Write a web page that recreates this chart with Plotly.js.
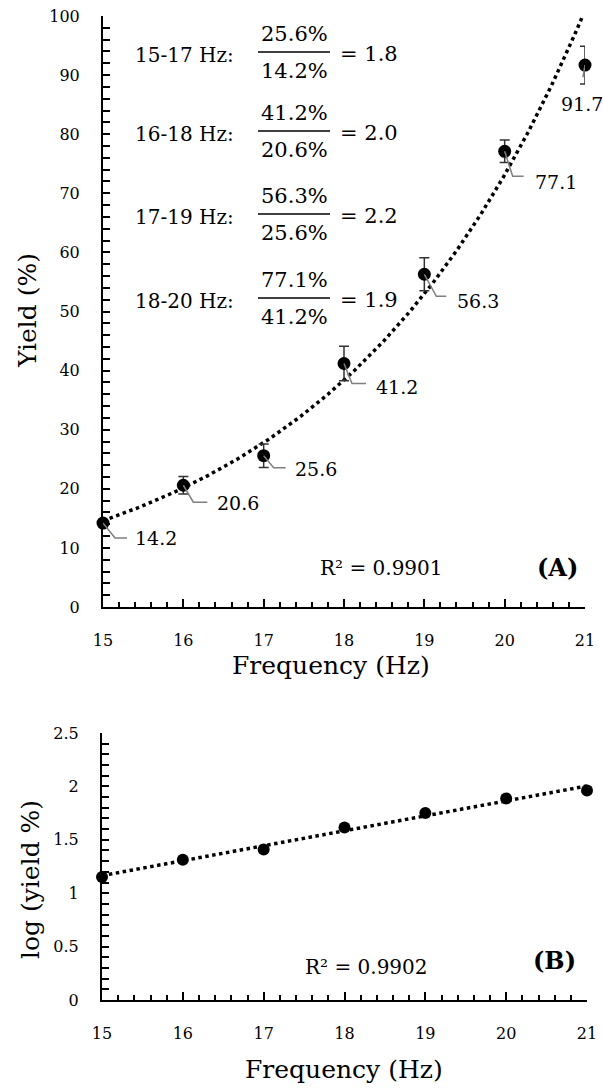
<!DOCTYPE html>
<html><head><meta charset="utf-8">
<script src="https://cdn.plot.ly/plotly-3.0.1.min.js"></script>
<style>html,body{margin:0;padding:0;background:#fff}</style>
</head><body><div id="chart" style="width:603px;height:1088px"></div>
<script>
// ---- data ----
const frequency = [15, 16, 17, 18, 19, 20, 21];
const yieldPct  = [14.2, 20.6, 25.6, 41.2, 56.3, 77.1, 91.7];
const yieldErr  = [0.5, 1.5, 2.0, 2.9, 2.8, 1.9, 3.2];
const logErr    = [0.015, 0.03, 0.035, 0.03, 0.02, 0.012, 0.015];
const r2A = '0.9901';
const r2B = '0.9902';
const panelA = '(A)';
const panelB = '(B)';

// ---- derived ----
const logYield = yieldPct.map(v => Math.log10(v));
function linfit(xs, ys) {
  const n = xs.length;
  const mx = xs.reduce((a, b) => a + b, 0) / n;
  const my = ys.reduce((a, b) => a + b, 0) / n;
  let sxy = 0, sxx = 0;
  for (let i = 0; i < n; i++) { sxy += (xs[i] - mx) * (ys[i] - my); sxx += (xs[i] - mx) ** 2; }
  const b = sxy / sxx;
  return { a: my - b * mx, b };
}
// Excel-style exponential trendline (regression on ln y) and linear trendline on log10 y
const fitA = linfit(frequency, yieldPct.map(v => Math.log(v)));
const fitB = linfit(frequency, logYield);
const trendX = [];
for (let x = frequency[0]; x <= frequency[frequency.length - 1] + 1e-9; x += 0.02) trendX.push(x);
const trendA = trendX.map(x => Math.exp(fitA.a + fitA.b * x));
const trendB = trendX.map(x => fitB.a + fitB.b * x);

const W = 603, H = 1088;
const PX = x => x / W, PY = y => 1 - y / H;
const FONT = 'DejaVu Serif';

const traces = [
  { x: trendX, y: trendA, mode: 'lines', xaxis: 'x', yaxis: 'y',
    line: { color: '#000', width: 3.5, dash: '3.5px,3.5px' }, hoverinfo: 'skip' },
  { x: frequency, y: yieldPct, mode: 'markers', xaxis: 'x', yaxis: 'y', cliponaxis: false,
    marker: { color: '#000', size: 13 },
    error_y: { type: 'data', array: yieldErr, visible: true, color: '#333', thickness: 1.5, width: 5 } },
  { x: trendX, y: trendB, mode: 'lines', xaxis: 'x2', yaxis: 'y2',
    line: { color: '#000', width: 3.5, dash: '3.5px,3.5px' }, hoverinfo: 'skip' },
  { x: frequency, y: logYield, mode: 'markers', xaxis: 'x2', yaxis: 'y2', cliponaxis: false,
    marker: { color: '#000', size: 12 },
    error_y: { type: 'data', array: logErr, visible: true, color: '#333', thickness: 1.5, width: 4 } }
];

function xAxis(domain, anchor) {
  return { domain, anchor, range: [15, 21], tick0: 15, dtick: 1, ticks: 'inside', ticklen: 8,
    tickwidth: 2, tickcolor: '#000', showline: true, linewidth: 2, linecolor: '#000',
    showgrid: false, zeroline: false, ticklabelstandoff: 18,
    tickfont: { family: FONT, size: 16, color: '#000' },
    minor: { tick0: 15, dtick: 0.2, ticks: 'inside', ticklen: 5, tickwidth: 2, tickcolor: '#000', showgrid: false },
    fixedrange: true };
}
function yAxis(domain, anchor, range, dtick, mdtick) {
  return { domain, anchor, range, tick0: 0, dtick, ticks: 'inside', ticklen: 7,
    tickwidth: 2, tickcolor: '#000', showline: true, linewidth: 2, linecolor: '#000',
    showgrid: false, zeroline: false, ticklabelstandoff: 18,
    tickfont: { family: FONT, size: 16, color: '#000' },
    minor: { tick0: 0, dtick: mdtick, ticks: 'inside', ticklen: 7, tickwidth: 2, tickcolor: '#000', showgrid: false },
    fixedrange: true };
}

const annotations = [];
const shapes = [];
function txt(text, x, y, size, opts) {
  annotations.push(Object.assign({ text, x: PX(x), y: PY(y), xref: 'paper', yref: 'paper',
    showarrow: false, xanchor: 'center', yanchor: 'middle',
    font: { family: FONT, size, color: '#000' } }, opts || {}));
}
// axis titles
txt('Yield (%)', 27, 311, 25, { textangle: -90 });
txt('Frequency (Hz)', 331, 665, 25);
txt('log (yield %)', 30, 880, 25, { textangle: -90 });
txt('Frequency (Hz)', 344, 1069, 25);
// R² and panel labels
txt('R² = ' + r2A, 318, 568, 20, { xanchor: 'left' });
txt('<b>' + panelA + '</b>', 580, 567, 24, { xanchor: 'right' });
txt('R² = ' + r2B, 303, 967, 20, { xanchor: 'left' });
txt('<b>' + panelB + '</b>', 578, 960, 24, { xanchor: 'right' });

// ratio fractions (yields two frequency steps apart)
const rowY = [55, 134, 217, 301];
for (let i = 0; i < 4; i++) {
  const ly = rowY[i];
  const num = yieldPct[i + 2], den = yieldPct[i];
  txt(frequency[i] + '-' + frequency[i + 2] + ' Hz:', 133, ly, 20, { xanchor: 'left' });
  txt(num.toFixed(1) + '%', 294, ly - 21, 21);
  txt(den.toFixed(1) + '%', 294, ly + 16, 21);
  txt('= ' + (num / den).toFixed(1), 338, ly - 1, 21, { xanchor: 'left' });
  shapes.push({ type: 'line', xref: 'paper', yref: 'paper', x0: PX(258), x1: PX(330),
    y0: PY(ly - 3), y1: PY(ly - 3), line: { color: '#000', width: 1.5 } });
}

// data labels with bent leader lines (pixel offsets; second value is downward)
const leaderDiag = [[12, 15], [10, 17], [10, 12], [8, 20], [12, 22], [8, 25], [-2, 12]];
const leaderEnd  = [[24, 15], [24, 17], [22, 12], [22, 20], [22, 22], [19, 25], [-2, 12]];
const labelOff   = [[30, 15], [32, 18], [29, 13], [30, 23], [31, 27], [28, 31], [-3, 39]];
for (let i = 0; i < frequency.length; i++) {
  const d = leaderDiag[i], e = leaderEnd[i], o = labelOff[i];
  shapes.push({ type: 'path', xref: 'x', yref: 'y', xsizemode: 'pixel', ysizemode: 'pixel',
    xanchor: frequency[i], yanchor: yieldPct[i],
    path: 'M0,0 L' + d[0] + ',' + (-d[1]) + ' L' + e[0] + ',' + (-e[1]),
    line: { color: '#7f7f7f', width: 1.5 } });
  annotations.push({ text: yieldPct[i].toFixed(1), x: frequency[i], y: yieldPct[i], xref: 'x', yref: 'y',
    showarrow: false, xanchor: i === frequency.length - 1 ? 'center' : 'left', yanchor: 'middle',
    xshift: o[0], yshift: -o[1], font: { family: FONT, size: 19, color: '#000' } });
}

const layout = {
  width: W, height: H, margin: { l: 0, r: 0, t: 0, b: 0 },
  paper_bgcolor: '#fff', plot_bgcolor: 'rgba(0,0,0,0)', showlegend: false, hovermode: false,
  xaxis: xAxis([PX(103), PX(585)], 'y'),
  yaxis: yAxis([PY(607), PY(16)], 'x', [0, 100], 10, 2),
  xaxis2: xAxis([PX(102), PX(587)], 'y2'),
  yaxis2: yAxis([PY(1000), PY(733)], 'x2', [0, 2.5], 0.5, 0.1),
  annotations, shapes
};
Plotly.newPlot('chart', traces, layout, { staticPlot: true, displayModeBar: false });
</script></body></html>
